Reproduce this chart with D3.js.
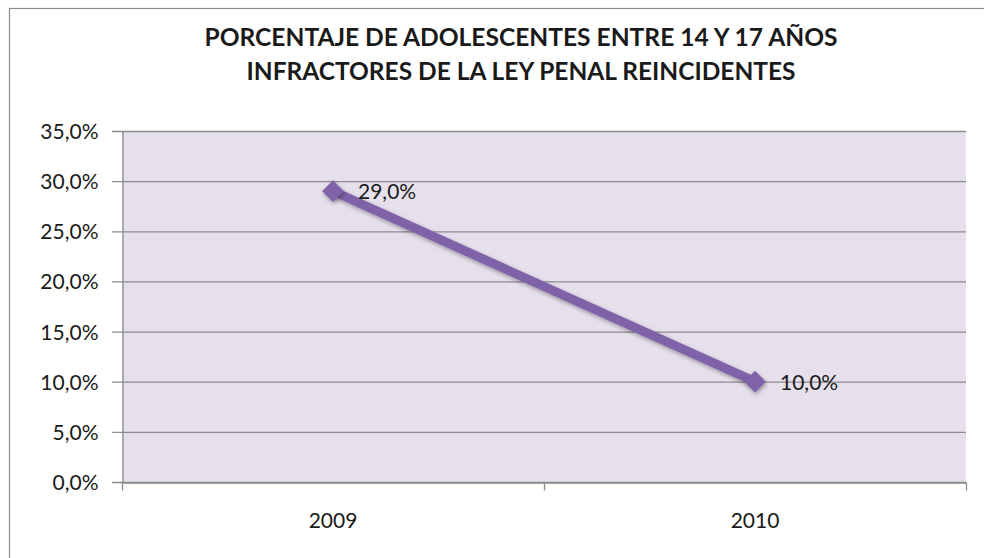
<!DOCTYPE html>
<html><head><meta charset="utf-8">
<script src="https://cdn.jsdelivr.net/npm/d3@7"></script>
<style>body{margin:0;background:#fff;}svg{display:block;}</style>
</head><body>
<script>
const categories = ["2009", "2010"];
const values = [0.29, 0.10];
const labels = ["29,0%", "10,0%"];
const yTicks = [0, 0.05, 0.10, 0.15, 0.20, 0.25, 0.30, 0.35];
const titleLines = ["PORCENTAJE DE ADOLESCENTES ENTRE 14 Y 17 AÑOS", "INFRACTORES DE LA LEY PENAL REINCIDENTES"];

const W = 984, H = 558;
const svg = d3.select("body").append("svg").attr("width", W).attr("height", H);
const font = "Lato, 'Open Sans', sans-serif";

const defs = svg.append("defs");
const f = defs.append("filter").attr("id", "sh").attr("x", "-50%").attr("y", "-50%").attr("width", "200%").attr("height", "200%");
f.append("feDropShadow").attr("dx", 1).attr("dy", 2).attr("stdDeviation", 2).attr("flood-color", "#000").attr("flood-opacity", 0.35);

// outer border
svg.append("rect").attr("x", 9.5).attr("y", 8.5).attr("width", W + 10).attr("height", H + 10)
  .attr("fill", "#fff").attr("stroke", "#8c8c8c").attr("stroke-width", 1.2);

const m = {left: 122, right: 966, top: 131, bottom: 482};
const x = d3.scaleBand().domain(categories).range([m.left, m.right]);
const y = d3.scaleLinear().domain([0, 0.35]).range([m.bottom, m.top]);

svg.append("rect").attr("x", m.left).attr("y", m.top).attr("width", m.right - m.left).attr("height", m.bottom - m.top)
  .attr("fill", "#e5e0ec");

// gridlines
svg.append("g").selectAll("line").data(yTicks).join("line")
  .attr("x1", m.left - 10).attr("x2", m.right).attr("y1", d => y(d) + 0.5).attr("y2", d => y(d) + 0.5)
  .attr("stroke", "#8c8c8c").attr("stroke-width", 1.3);

// y axis
const fmt = d => d3.format(".1f")(d * 100).replace(".", ",") + "%";
const yAxis = svg.append("g").attr("transform", `translate(${m.left + 0.5},0)`)
  .call(d3.axisLeft(y).tickValues(yTicks).tickFormat(fmt).tickSize(0).tickPadding(24));
yAxis.select(".domain").attr("stroke", "#8c8c8c").attr("stroke-width", 1.3);
yAxis.selectAll("text").attr("font-family", font).attr("font-size", 21).attr("fill", "#1a1a1a").attr("dy", "0.36em");

// x axis
const xAxis = svg.append("g").attr("transform", `translate(0,${m.bottom + 0.5})`)
  .call(d3.axisBottom(x).tickSize(0).tickPadding(31));
xAxis.select(".domain").attr("stroke", "#8c8c8c").attr("stroke-width", 1.3);
xAxis.selectAll("text").attr("font-family", font).attr("font-size", 21).attr("fill", "#1a1a1a");
const bounds = [m.left, (m.left + m.right) / 2, m.right];
xAxis.selectAll(".bt").data(bounds).join("line").attr("class", "bt")
  .attr("x1", d => d + 0.5).attr("x2", d => d + 0.5).attr("y1", 0).attr("y2", 8)
  .attr("stroke", "#8c8c8c").attr("stroke-width", 1.3);

// line
const pts = categories.map((c, i) => [x(c) + x.bandwidth() / 2, y(values[i])]);
svg.append("path").datum(pts).attr("d", d3.line())
  .attr("fill", "none").attr("stroke", "#7f62a8").attr("stroke-width", 9).attr("filter", "url(#sh)");

// markers
svg.append("g").selectAll("path").data(pts).join("path")
  .attr("d", d3.symbol(d3.symbolDiamond2, 300)())
  .attr("transform", d => `translate(${d[0]},${d[1]})`)
  .attr("fill", "#7f62a8").attr("filter", "url(#sh)");

// labels
svg.append("g").selectAll("text").data(pts).join("text")
  .attr("x", d => d[0] + 25).attr("y", d => d[1] + 8)
  .attr("font-family", font).attr("font-size", 21).attr("fill", "#1a1a1a")
  .text((d, i) => labels[i]);

// title
const tLen = [633, 549];
svg.append("g").selectAll("text").data(titleLines).join("text")
  .attr("x", 521).attr("y", (d, i) => 46 + i * 34).attr("text-anchor", "middle")
  .attr("font-family", font).attr("font-size", 24).attr("font-weight", 700).attr("fill", "#1a1a1a")
  .attr("textLength", (d, i) => tLen[i]).attr("lengthAdjust", "spacingAndGlyphs")
  .text(d => d);
</script>
</body></html>
